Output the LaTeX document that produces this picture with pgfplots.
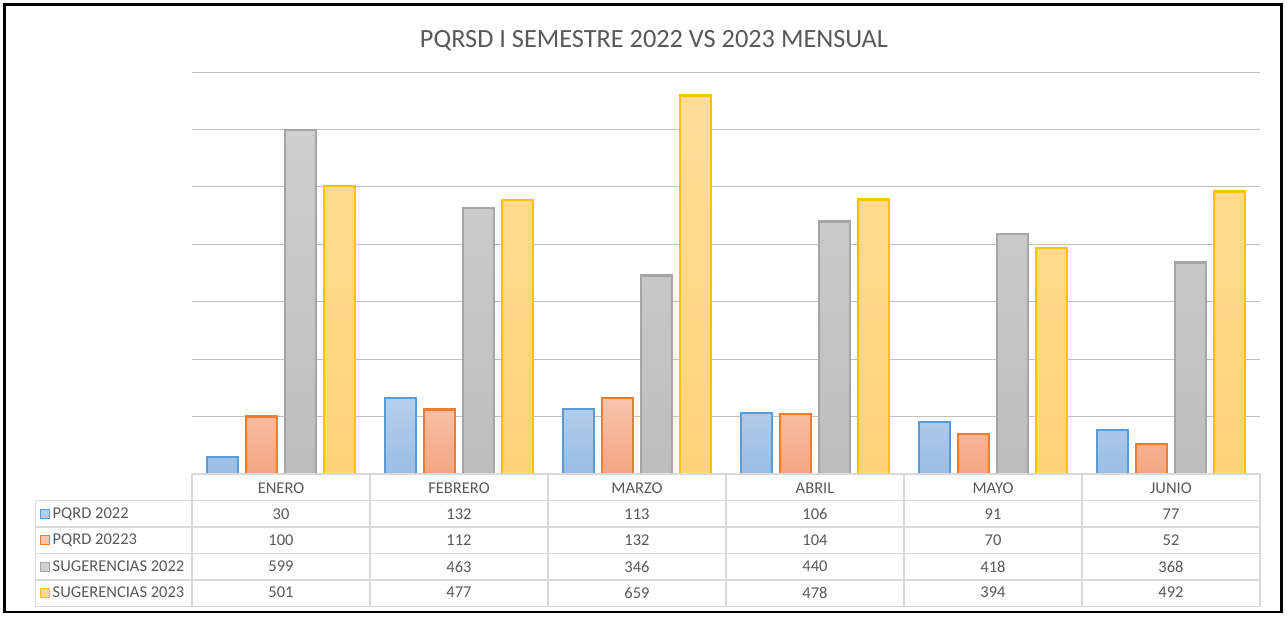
\documentclass[border=0pt]{standalone}
\usepackage{pgfplots}
\usepackage{pgfplotstable}
\pgfplotsset{compat=1.18}
\usepackage{fontspec}
\setmainfont{Carlito}
\definecolor{txt}{HTML}{595959}
\definecolor{grid}{HTML}{D9D9D9}
\definecolor{bl}{HTML}{5B9BD5}
\definecolor{blT}{HTML}{B6CFEB}
\definecolor{blB}{HTML}{99BDE5}
\definecolor{orn}{HTML}{ED7D31}
\definecolor{orT}{HTML}{F8C4AB}
\definecolor{orB}{HTML}{F4A581}
\definecolor{gry}{HTML}{A5A5A5}
\definecolor{grT}{HTML}{CFCFCF}
\definecolor{grB}{HTML}{BDBDBD}
\definecolor{yel}{HTML}{FFC000}
\definecolor{yeT}{HTML}{FFDD98}
\definecolor{yeB}{HTML}{FFD378}

\pgfplotstableread{
x month p22 p23 s22 s23
0 ENERO 30 100 599 501
1 FEBRERO 132 112 463 477
2 MARZO 113 132 346 659
3 ABRIL 106 104 440 478
4 MAYO 91 70 418 394
5 JUNIO 77 52 368 492
}\datatable

\begin{document}
\begin{tikzpicture}
\begin{scope}[x=1pt,y=-1pt]
\path (0,0) rectangle (1287,616);
\draw[black, line width=2.6pt] (4.5,4.5) rectangle (1281.5,612);
\node[text=txt, font=\fontsize{26.3}{30}\selectfont] at (654,41) {PQRSD I SEMESTRE 2022 VS 2023 MENSUAL};
\end{scope}

\begin{axis}[
  at={(192pt,-474pt)}, anchor=south west,
  scale only axis, width=1068pt, height=402pt,
  xmin=-0.5, xmax=5.5, ymin=0, ymax=700,
  ytick={0,100,...,700}, yticklabels={},
  xtick=\empty,
  ymajorgrids, grid style={grid, line width=1pt},
  axis line style={draw=none}, major tick style={draw=none},
  clip=false,
  shadebar/.style n args={3}{ybar, bar width=31pt, bar shift=#1, draw=none, top color=#2, bottom color=#3},
  edgebar/.style n args={2}{ybar, bar width=31pt, bar shift=#1, fill=none, draw=#2, line width=2.4pt},
]
\addplot[shadebar={-58.5pt}{blT}{blB}] table[x=x,y=p22]{\datatable};
\addplot[shadebar={-19.5pt}{orT}{orB}] table[x=x,y=p23]{\datatable};
\addplot[shadebar={19.5pt}{grT}{grB}] table[x=x,y=s22]{\datatable};
\addplot[shadebar={58.5pt}{yeT}{yeB}] table[x=x,y=s23]{\datatable};
\addplot[edgebar={-58.5pt}{bl}] table[x=x,y=p22]{\datatable};
\addplot[edgebar={-19.5pt}{orn}] table[x=x,y=p23]{\datatable};
\addplot[edgebar={19.5pt}{gry}] table[x=x,y=s22]{\datatable};
\addplot[edgebar={58.5pt}{yel}] table[x=x,y=s23]{\datatable};
\end{axis}

\begin{scope}[x=1pt,y=-1pt]
\begin{scope}[draw=grid, line width=1.2pt]
\draw (192,474) -- (1260,474);
\foreach \y in {500.7,527,553.5,580,606.5} \draw (35.7,\y) -- (1260,\y);
\draw (35.7,500.7) -- (35.7,606.5);
\foreach \i in {0,...,6} \draw ({192+178*\i},474) -- ({192+178*\i},606.5);
\end{scope}

\foreach \r in {0,...,5}{
  \pgfplotstablegetelem{\r}{month}\of\datatable
  \node[text=txt, font=\fontsize{16.5}{18}\selectfont] at ({281+178*\r},488.5) {\pgfplotsretval};
  \pgfplotstablegetelem{\r}{p22}\of\datatable
  \node[text=txt, font=\fontsize{16.5}{18}\selectfont] at ({281+178*\r},514) {\pgfplotsretval};
  \pgfplotstablegetelem{\r}{p23}\of\datatable
  \node[text=txt, font=\fontsize{16.5}{18}\selectfont] at ({281+178*\r},540) {\pgfplotsretval};
  \pgfplotstablegetelem{\r}{s22}\of\datatable
  \node[text=txt, font=\fontsize{16.5}{18}\selectfont] at ({281+178*\r},566.5) {\pgfplotsretval};
  \pgfplotstablegetelem{\r}{s23}\of\datatable
  \node[text=txt, font=\fontsize{16.5}{18}\selectfont] at ({281+178*\r},592.5) {\pgfplotsretval};
}

\foreach \y/\lab/\dc/\fc in {514/PQRD 2022/bl/blT, 540/PQRD 20223/orn/orT, 566.5/SUGERENCIAS 2022/gry/grT, 592.5/SUGERENCIAS 2023/yel/yeT}{
  \draw[draw=\dc, fill=\fc, line width=1pt] (40,\y-4.5) rectangle (49,\y+4.5);
  \node[anchor=west, inner sep=0pt, text=txt, font=\fontsize{16.5}{18}\selectfont] at (52.5,\y) {\lab};
}
\end{scope}
\end{tikzpicture}
\end{document}
